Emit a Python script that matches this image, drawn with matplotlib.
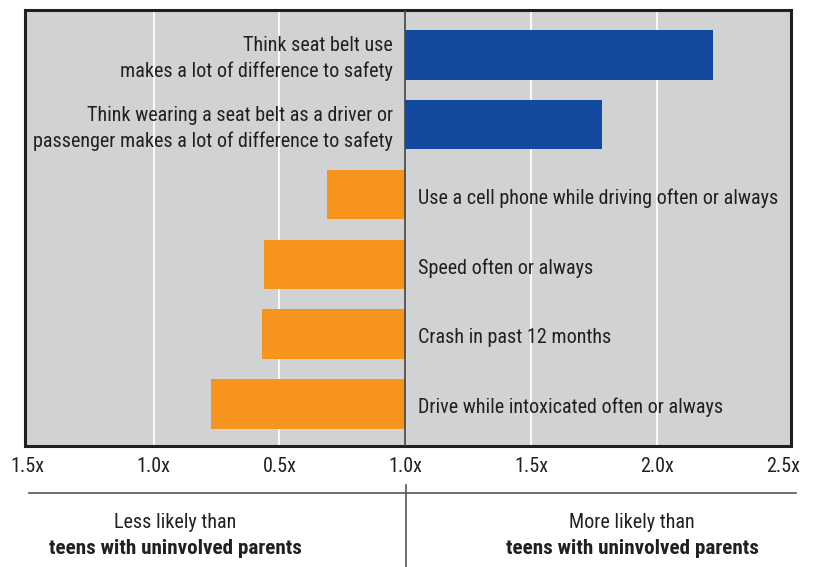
import numpy as np
import matplotlib.pyplot as plt
from matplotlib.lines import Line2D

plt.rcParams['font.family'] = ['Roboto Condensed', 'Liberation Sans', 'DejaVu Sans']

# bar length = difference from 1.0x (negative = less likely)
labels = ["Think seat belt use\nmakes a lot of difference to safety",
          "Think wearing a seat belt as a driver or\npassenger makes a lot of difference to safety",
          "Use a cell phone while driving often or always",
          "Speed often or always",
          "Crash in past 12 months",
          "Drive while intoxicated often or always"]
values = [1.22, 0.78, -0.31, -0.56, -0.57, -0.77]
tick_pos = [-1.5, -1.0, -0.5, 0.0, 0.5, 1.0, 1.5]
tick_labels = ["1.5x", "1.0x", "0.5x", "1.0x", "1.5x", "2.0x", "2.5x"]

blue = "#124a9f"
orange = "#f7941e"
grey = "#d1d2d4"
dark = "#231f20"
fs = 14.5

W, H = 815, 567
fig = plt.figure(figsize=(W / 100, H / 100), dpi=100)
ax = fig.add_axes([25 / W, (H - 446) / H, (791 - 25) / W, (446 - 10) / H])
ax.set_facecolor(grey)

y = np.arange(len(values))
colors = [blue if v > 0 else orange for v in values]
ax.barh(y, values, height=0.71, color=colors, zorder=2)

for g in [-1.0, -0.5, 0.5, 1.0]:
    ax.axvline(g, color="white", lw=1.3, zorder=1)
ax.axvline(0, color="#444444", lw=1.2, zorder=3)

for yi, v, lab in zip(y, values, labels):
    if v > 0:
        ax.text(-0.05, yi + 0.05, lab, ha="right", va="center", fontsize=fs,
                color=dark, linespacing=1.42, zorder=4)
    else:
        ax.text(0.05, yi + 0.05, lab, ha="left", va="center", fontsize=fs,
                color=dark, zorder=4)

ax.set_xlim(-1.51, 1.53)
ax.set_ylim(5.6, -0.64)
ax.set_yticks([])
ax.set_xticks(tick_pos)
ax.set_xticklabels(tick_labels, fontsize=fs, color=dark)
ax.tick_params(axis="x", length=0, pad=8)
for s in ax.spines.values():
    s.set_linewidth(2.2)
    s.set_color(dark)

# bottom legend area
fig.add_artist(Line2D([29 / W, 796 / W], [(H - 493) / H] * 2,
                      transform=fig.transFigure, color="#555555", lw=1.2))
fig.add_artist(Line2D([406 / W, 406 / W], [(H - 485) / H, 0],
                      transform=fig.transFigure, color="#555555", lw=1.2))
fig.text(175 / W, (H - 522) / H, "Less likely than", ha="center", va="center",
         fontsize=fs, color=dark)
fig.text(175 / W, (H - 548) / H, "teens with uninvolved parents", ha="center",
         va="center", fontsize=15.2, fontweight="bold", color=dark)
fig.text(632 / W, (H - 522) / H, "More likely than", ha="center", va="center",
         fontsize=fs, color=dark)
fig.text(632 / W, (H - 548) / H, "teens with uninvolved parents", ha="center",
         va="center", fontsize=15.2, fontweight="bold", color=dark)

fig.savefig("out.png", dpi=100, facecolor="white")
